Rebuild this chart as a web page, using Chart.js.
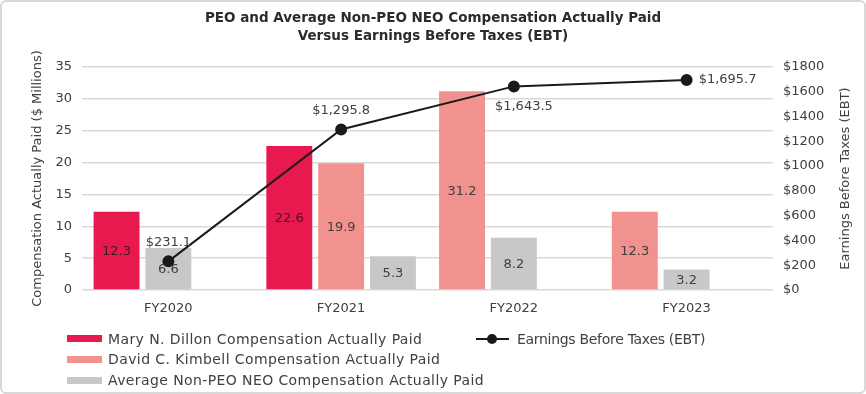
<!DOCTYPE html>
<html>
<head>
<meta charset="utf-8">
<script src="https://cdn.jsdelivr.net/npm/chart.js@4.4.1/dist/chart.umd.min.js"></script>
<style>
  html, body { margin: 0; padding: 0; background: #fff; }
  #wrap { position: relative; width: 866px; height: 394px; overflow: hidden; font-family: "DejaVu Sans", sans-serif; color: #404040; }
  #frame { position: absolute; left: 0; top: 0; width: 862px; height: 390px; border: 2px solid #d9d9d9; border-radius: 6px; pointer-events: none; }
  #title { position: absolute; left: 0; top: 8px; width: 866px; text-align: center; font-weight: bold; font-size: 13.5px; line-height: 18px; color: #2b2b2b; }
  .lg { position: absolute; font-size: 14px; line-height: 16px; white-space: nowrap; letter-spacing: 0.4px; }
  .lg.r { letter-spacing: -0.3px; }
  .sw { position: absolute; width: 35px; height: 7px; }
  .ln { position: absolute; width: 33px; height: 2px; background: #1a1a1a; }
  .dot { position: absolute; width: 10px; height: 10px; border-radius: 50%; background: #1a1a1a; }
  canvas { position: absolute; left: 0; top: 0; }
</style>
</head>
<body>
<div id="wrap">
  <canvas id="c" width="866" height="394"></canvas>
  <div id="title">PEO and Average Non-PEO NEO Compensation Actually Paid<br>Versus Earnings Before Taxes (EBT)</div>
  <div id="legend"></div>
  <div id="frame"></div>
</div>
<script>
// ---- data ----
const categories = ['FY2020', 'FY2021', 'FY2022', 'FY2023'];
const dillonCAP = [12.3, 22.6, null, null];
const kimbellCAP = [null, 19.9, 31.2, 12.3];
const nonPeoAvgCAP = [6.6, 5.3, 8.2, 3.2];
const ebt = [231.1, 1295.8, 1643.5, 1695.7];
const leftAxisMax = 35, leftAxisStep = 5;
const rightAxisMax = 1800, rightAxisStep = 200;

const seriesNames = [
  'Mary N. Dillon Compensation Actually Paid',
  'David C. Kimbell Compensation Actually Paid',
  'Average Non-PEO NEO Compensation Actually Paid'
];
const lineName = 'Earnings Before Taxes (EBT)';

// ---- styles ----
const colors = ['#E8194F', '#F2928F', '#C8C8CA'];
const labelColors = ['#3f1822', '#404040', '#404040'];
const barSeries = [dillonCAP, kimbellCAP, nonPeoAvgCAP];

// Build slot datasets: in each category, present bars are packed from the left slot
const slotCount = 3;
const slots = [];
for (let s = 0; s < slotCount; s++) slots.push({ data: [], bg: [], lc: [] });
categories.forEach((c, i) => {
  let j = 0;
  barSeries.forEach((ser, k) => {
    if (ser[i] !== null && ser[i] !== undefined) {
      slots[j].data[i] = ser[i]; slots[j].bg[i] = colors[k]; slots[j].lc[i] = labelColors[k]; j++;
    }
  });
  for (; j < slotCount; j++) { slots[j].data[i] = null; slots[j].bg[i] = 'rgba(0,0,0,0)'; slots[j].lc[i] = '#404040'; }
});

const FONT = '"DejaVu Sans", sans-serif';
const TXT = '#404040';

const datasets = [{
  type: 'line', label: lineName, data: ebt, yAxisID: 'y1', order: 0,
  borderColor: '#1a1a1a', backgroundColor: '#1a1a1a', borderWidth: 2,
  pointRadius: 5, pointHoverRadius: 5, tension: 0, fill: false
}];
slots.forEach((s, idx) => datasets.push({
  type: 'bar', label: 'slot' + idx, data: s.data, backgroundColor: s.bg, labelColors: s.lc,
  yAxisID: 'y', order: 1, categoryPercentage: 0.9, barPercentage: 0.886
}));

const lineLabelPos = ['above', 'above', 'belowRight', 'right'];

const labelPlugin = {
  id: 'valueLabels',
  afterDatasetsDraw(chart) {
    const ctx = chart.ctx;
    ctx.save();
    ctx.font = '13px ' + FONT;
    chart.data.datasets.forEach((ds, di) => {
      const meta = chart.getDatasetMeta(di);
      meta.data.forEach((el, i) => {
        const v = ds.data[i];
        if (v === null || v === undefined) return;
        if (ds.type === 'bar') {
          ctx.fillStyle = ds.labelColors[i];
          ctx.textAlign = 'center'; ctx.textBaseline = 'middle';
          ctx.fillText(v.toFixed(1), el.x, (el.y + el.base) / 2 + 1);
        } else {
          const txt = '$' + v.toLocaleString('en-US', { minimumFractionDigits: 1, maximumFractionDigits: 1 });
          ctx.fillStyle = TXT; ctx.textBaseline = 'middle';
          const p = lineLabelPos[i];
          if (p === 'above') { ctx.textAlign = 'center'; ctx.fillText(txt, el.x, el.y - 19); }
          else if (p === 'belowRight') { ctx.textAlign = 'center'; ctx.fillText(txt, el.x + 10, el.y + 20); }
          else { ctx.textAlign = 'left'; ctx.fillText(txt, el.x + 12, el.y); }
        }
      });
    });
    // right axis title (reads bottom to top)
    const y1 = chart.scales.y1;
    ctx.translate(846, (y1.top + y1.bottom) / 2);
    ctx.rotate(-Math.PI / 2);
    ctx.textAlign = 'center'; ctx.textBaseline = 'middle';
    ctx.fillStyle = TXT;
    ctx.font = '13px ' + FONT;
    ctx.fillText(lineName, 0, 0);
    ctx.restore();
  }
};

new Chart(document.getElementById('c'), {
  data: { labels: categories, datasets },
  options: {
    responsive: false, animation: false,
    layout: { padding: { top: 67, bottom: 69, left: 20, right: 10 } },
    plugins: { legend: { display: false }, tooltip: { enabled: false }, title: { display: false } },
    scales: {
      x: {
        grid: { display: false }, border: { display: false },
        ticks: { color: TXT, font: { family: FONT, size: 13 }, padding: 3 },
        afterFit: s => { s.height = 35; }
      },
      y: {
        position: 'left', min: 0, max: leftAxisMax,
        ticks: { stepSize: leftAxisStep, color: TXT, font: { family: FONT, size: 13 }, padding: 10 },
        grid: { color: '#d9d9d9', lineWidth: 1.5, drawTicks: false }, border: { display: false },
        title: { display: true, text: 'Compensation Actually Paid ($ Millions)', color: TXT, font: { family: FONT, size: 13 }, padding: { top: 10, bottom: 0 } },
        afterFit: s => { s.width = 62; }
      },
      y1: {
        position: 'right', min: 0, max: rightAxisMax,
        ticks: { stepSize: rightAxisStep, color: TXT, font: { family: FONT, size: 13 }, padding: 10, callback: v => '$' + v },
        grid: { display: false, drawTicks: false }, border: { display: false },
        afterFit: s => { s.width = 83; }
      }
    }
  },
  plugins: [labelPlugin]
});

// ---- HTML legend ----
const lg = document.getElementById('legend');
const rows = [338.5, 359, 380];
seriesNames.forEach((n, k) => {
  const sw = document.createElement('div'); sw.className = 'sw';
  sw.style.left = '67px'; sw.style.top = (rows[k] - 3.5) + 'px'; sw.style.background = colors[k];
  lg.appendChild(sw);
  const t = document.createElement('div'); t.className = 'lg'; t.textContent = n;
  t.style.left = '108px'; t.style.top = (rows[k] - 8) + 'px';
  lg.appendChild(t);
});
const ln = document.createElement('div'); ln.className = 'ln'; ln.style.left = '476px'; ln.style.top = (rows[0] - 1) + 'px'; lg.appendChild(ln);
const dot = document.createElement('div'); dot.className = 'dot'; dot.style.left = '487px'; dot.style.top = (rows[0] - 5) + 'px'; lg.appendChild(dot);
const lt = document.createElement('div'); lt.className = 'lg r'; lt.textContent = lineName; lt.style.left = '517px'; lt.style.top = (rows[0] - 8) + 'px'; lg.appendChild(lt);
</script>
</body>
</html>
